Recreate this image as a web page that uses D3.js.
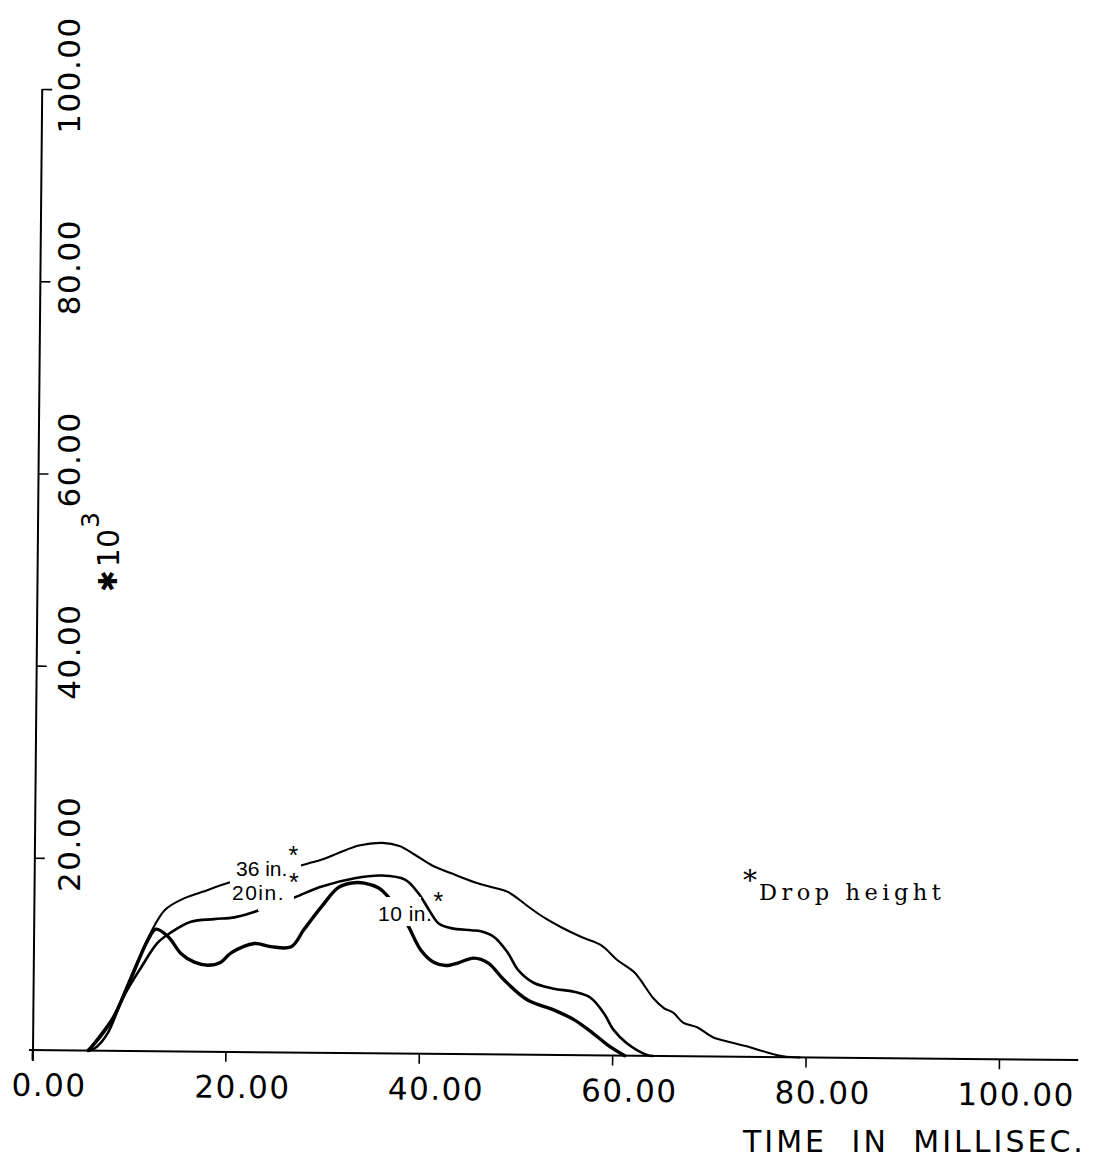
<!DOCTYPE html>
<html><head><meta charset="utf-8">
<script src="https://cdn.jsdelivr.net/npm/d3@7"></script>
<style>body{margin:0;background:#fff}</style>
</head><body><svg id="c" width="1100" height="1164"></svg>
<script>
// ---- data (time in ms, force *10^3) ----
const xTicks = [0, 20, 40, 60, 80, 100];
const xTickLabels = ["0.00", "20.00", "40.00", "60.00", "80.00", "100.00"];
const yTicks = [20, 40, 60, 80, 100];
const yTickLabels = ["20.00", "40.00", "60.00", "80.00", "100.00"];
const seriesNames = ["10 in.", "20in.", "36 in."];

const t10 = [5.8,7.0,8.4,10.1,11.9,12.7,14.0,15.3,16.7,18.1,19.4,20.5,22.9,24.6,26.7,28.0,29.8,31.5,32.9,34.2,35.7,36.5,38.6,40.1,41.5,42.7,44.0,45.6,47.1,48.7,51.2,53.9,56.0,58.0,59.8,61.3];
const f10 = [0,1.4,3.5,7.4,11.6,12.7,11.9,10.2,9.3,9.0,9.3,10.3,11.3,11.0,11.0,12.8,15.2,17.2,17.7,17.7,17.2,16.5,13.6,10.8,9.5,9.2,9.5,10.0,9.5,7.8,5.7,4.7,3.7,2.3,0.9,0];

const t20 = [6.0,6.7,7.8,9.4,11.2,12.9,14.3,16.3,18.7,20.8,22.9,23.8,26.9,29.8,33.2,36.0,38.4,39.8,40.9,41.9,43.2,45.3,46.3,47.7,49.1,50.2,51.8,53.9,56.0,57.7,59.1,60.1,61.5,63.6,64.2];
const f20 = [0,0.4,1.8,5.6,8.7,11.3,12.4,13.5,13.8,14.0,14.6,15.0,16.1,17.3,18.2,18.5,18.1,16.7,15.0,13.6,13.1,12.9,12.8,12.2,10.6,8.8,7.5,6.9,6.6,6.0,4.4,2.7,1.3,0.1,0];

const t36 = [5.8,7.0,8.4,10.1,12.2,13.6,15.3,17.4,20.5,27.7,29.8,31.5,33.6,36.0,37.8,39.4,41.2,43.2,45.6,47.4,49.1,51.2,52.8,54.6,56.7,58.7,60.5,62.2,63.2,64.2,65.3,66.3,67.3,68.8,70.4,72.2,73.9,75.6,77.7,79.4];
const f36 = [0,1.6,3.6,7.6,12.4,14.7,15.8,16.6,17.7,19.5,20.1,20.8,21.6,21.9,21.6,20.7,19.6,18.8,17.9,17.4,16.9,15.4,14.3,13.3,12.3,11.5,9.9,8.7,7.4,6.0,5.0,4.5,3.5,3.0,2.0,1.5,1.1,0.6,0.1,0];

// ---- layout ----
const svg = d3.select("#c");
const x = d3.scaleLinear().domain([0, 100]).range([32, 999]);
const y = d3.scaleLinear().domain([0, 100]).range([1050, 89]);
const FONT = "'DejaVu Sans', sans-serif";

// chart group (scan is slightly rotated)
const g = svg.append("g").attr("transform", "rotate(0.55,32,1050)");

// x axis
const xAxis = d3.axisBottom(x).tickValues(xTicks).tickSize(10).tickSizeOuter(0)
  .tickFormat((d, i) => xTickLabels[i]);
const gx = g.append("g").attr("transform", "translate(0,1050)").call(xAxis);
gx.select(".domain").remove();
gx.selectAll(".tick line").attr("stroke", "#000").attr("stroke-width", 1.6);
gx.selectAll(".tick text")
  .attr("y", 46).attr("dy", 0).attr("dx", 17)
  .attr("fill", "#000")
  .style("font-family", FONT).style("font-size", "31px").style("letter-spacing", "1.5px");
g.append("line").attr("x1", 29).attr("x2", x(108.2)).attr("y1", y(0)).attr("y2", y(0))
  .attr("stroke", "#000").attr("stroke-width", 2);

// y axis
const yAxis = d3.axisRight(y).tickValues(yTicks).tickSize(10).tickSizeOuter(0).tickFormat("");
const gy = g.append("g").attr("transform", "translate(33,0)").call(yAxis);
gy.select(".domain").remove();
gy.selectAll(".tick line").attr("stroke", "#000").attr("stroke-width", 1.6);
g.append("line").attr("x1", 33).attr("x2", 33).attr("y1", y(0) + 11).attr("y2", y(100))
  .attr("stroke", "#000").attr("stroke-width", 2);

// curves
const line = d3.line().x(d => x(d[0])).y(d => y(d[1])).curve(d3.curveCatmullRom.alpha(0.5));
const series = [
  { name: seriesNames[2], t: t36, f: f36, w: 2.1 },
  { name: seriesNames[1], t: t20, f: f20, w: 2.6 },
  { name: seriesNames[0], t: t10, f: f10, w: 3.4 }
];
g.selectAll("path.curve").data(series).enter().append("path")
  .attr("class", "curve")
  .attr("d", s => line(s.t.map((v, i) => [v, s.f[i]])))
  .attr("fill", "none").attr("stroke", "#000").attr("stroke-width", s => s.w)
  .attr("stroke-linejoin", "round").attr("stroke-linecap", "round");

// ---- annotation layer (screen coordinates) ----
const a = svg.append("g");

// y tick labels, rotated
a.selectAll("text.ylab").data(yTicks).enter().append("text")
  .attr("class", "ylab")
  .attr("transform", d => `translate(80,${y(d) - 14}) rotate(-90)`)
  .attr("text-anchor", "middle")
  .style("font-family", FONT).style("font-size", "31px").style("letter-spacing", "1.5px")
  .text((d, i) => yTickLabels[i]);

// y axis unit label  *10^3
const yt = a.append("text")
  .attr("transform", "translate(119,592) rotate(-90)")
  .style("font-family", FONT).style("font-size", "30px");
yt.append("tspan").attr("dy", -2).style("font-size", "26px").text("\u2731");
yt.append("tspan").attr("dy", 2).attr("dx", 3).text("10");
yt.append("tspan").attr("dy", -20).attr("dx", 1).style("font-size", "25px").text("3");

// x axis title
a.append("text").attr("x", 743).attr("y", 1152)
  .style("font-family", FONT).style("font-size", "30px")
  .style("letter-spacing", "3px").style("word-spacing", "12px")
  .text("TIME IN MILLISEC.");

// curve labels with white knock-outs
const LFONT = "'Liberation Sans', Arial, sans-serif";
const knock = [[231, 845, 70, 41], [230, 879, 64, 24], [258, 895, 34, 16], [376, 897, 45, 29]];
a.selectAll("rect.k").data(knock).enter().append("rect").attr("class", "k")
  .attr("x", d => d[0]).attr("y", d => d[1]).attr("width", d => d[2]).attr("height", d => d[3])
  .attr("fill", "#fff");
const labs = [
  { name: seriesNames[2], x: 236, y: 876, sdy: -12, sdx: 1, ls: 0 },
  { name: seriesNames[1], x: 232, y: 900, sdy: -9, sdx: 4, ls: 1.5 },
  { name: seriesNames[0], x: 378, y: 921, sdy: -11, sdx: 1, ls: 0.5 }
];
labs.forEach(l => {
  const t = a.append("text").attr("x", l.x).attr("y", l.y)
    .style("font-family", LFONT).style("font-size", "21px");
  t.append("tspan").style("letter-spacing", l.ls + "px").text(l.name);
  t.append("tspan").attr("dy", l.sdy).attr("dx", l.sdx).style("font-size", "25px").text("*");
});

// legend note
const lg = a.append("text").attr("x", 743).attr("y", 900)
  .style("font-family", "'DejaVu Serif', 'Liberation Serif', serif").style("font-size", "22.5px");
lg.append("tspan").attr("dy", -10).style("font-size", "28px").text("*");
lg.append("tspan").attr("dy", 10).attr("dx", 2).style("letter-spacing", "4.5px").text("Drop height");
</script></body></html>
